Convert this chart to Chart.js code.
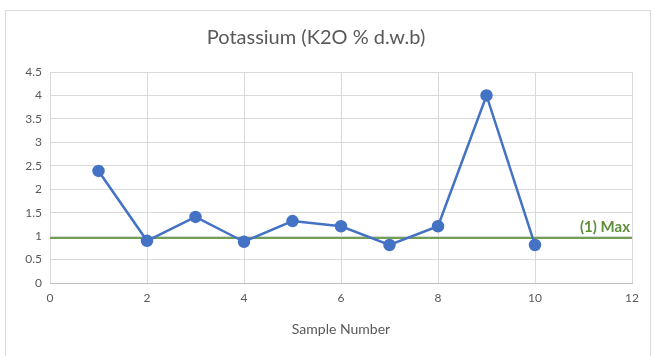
<!DOCTYPE html>
<html>
<head>
<meta charset="utf-8">
<script src="https://cdn.jsdelivr.net/npm/chart.js@4"></script>
<style>
  html, body { margin: 0; padding: 0; background: #fff; }
  #wrap { position: relative; width: 654px; height: 356px; }
  #frame { position: absolute; left: 5px; top: 10px; width: 646px; height: 360px; border: 1px solid #d9d9d9; box-sizing: border-box; }
  canvas { position: absolute; left: 0; top: 0; }
</style>
</head>
<body>
<div id="wrap">
  <div id="frame"></div>
  <canvas id="c" width="654" height="356"></canvas>
</div>
<script>
const sampleNumbers = [1, 2, 3, 4, 5, 6, 7, 8, 9, 10];
const potassium = [2.39, 0.9, 1.41, 0.88, 1.32, 1.21, 0.81, 1.21, 4.0, 0.81];
const maxLineX = [0, 12];
const maxLineY = [0.96, 0.96];
const maxLabel = "(1) Max";
const chartTitle = "Potassium (K2O % d.w.b)";
const xTitle = "Sample Number";

const FONT = "Lato, 'Open Sans', sans-serif";
const TXT = "#595959";

const labelPlugin = {
  id: 'maxLabel',
  afterDatasetsDraw(chart) {
    const ctx = chart.ctx;
    const xs = chart.scales.x, ys = chart.scales.y;
    ctx.save();
    ctx.font = "bold 15px " + FONT;
    ctx.fillStyle = "#5E8E3A";
    ctx.textAlign = "right";
    ctx.textBaseline = "bottom";
    ctx.fillText(maxLabel, xs.getPixelForValue(maxLineX[1]) - 2, ys.getPixelForValue(maxLineY[1]) - 3);
    ctx.restore();
  }
};

new Chart(document.getElementById('c'), {
  type: 'scatter',
  data: {
    datasets: [
      {
        data: sampleNumbers.map((x, i) => ({x, y: potassium[i]})),
        showLine: true,
        borderColor: '#4472C4',
        backgroundColor: '#4472C4',
        borderWidth: 2.5,
        pointRadius: 5,
        pointHoverRadius: 5,
        order: 1
      },
      {
        data: maxLineX.map((x, i) => ({x, y: maxLineY[i]})),
        showLine: true,
        borderColor: '#72A052',
        borderWidth: 2,
        pointRadius: 0,
        order: 2
      }
    ]
  },
  options: {
    responsive: false,
    animation: false,
    devicePixelRatio: 1,
    layout: { padding: { left: 0, right: 22, top: 18, bottom: 18 } },
    plugins: {
      legend: { display: false },
      tooltip: { enabled: false },
      title: {
        display: true,
        text: chartTitle,
        color: TXT,
        font: { family: FONT, size: 20, weight: 'normal' },
        padding: { top: 8, bottom: 22 }
      }
    },
    scales: {
      x: {
        type: 'linear',
        min: 0, max: 12,
        ticks: { stepSize: 2, color: TXT, font: { family: FONT, size: 12 }, padding: 8 },
        grid: { color: '#d9d9d9', drawTicks: false, lineWidth: 1 },
        border: { color: '#bfbfbf' },
        title: { display: true, text: xTitle, color: TXT, font: { family: FONT, size: 14 }, padding: { top: 6, bottom: 0 } },
        afterFit(s) { s.height = 55; }
      },
      y: {
        min: 0, max: 4.5,
        ticks: { stepSize: 0.5, color: TXT, font: { family: FONT, size: 12 }, padding: 8,
                 callback: (v) => String(Math.round(v * 10) / 10) },
        grid: { color: '#d9d9d9', drawTicks: false, lineWidth: 1 },
        border: { display: false },
        afterFit(s) { s.width = 50; }
      }
    }
  },
  plugins: [labelPlugin]
});
</script>
</body>
</html>
